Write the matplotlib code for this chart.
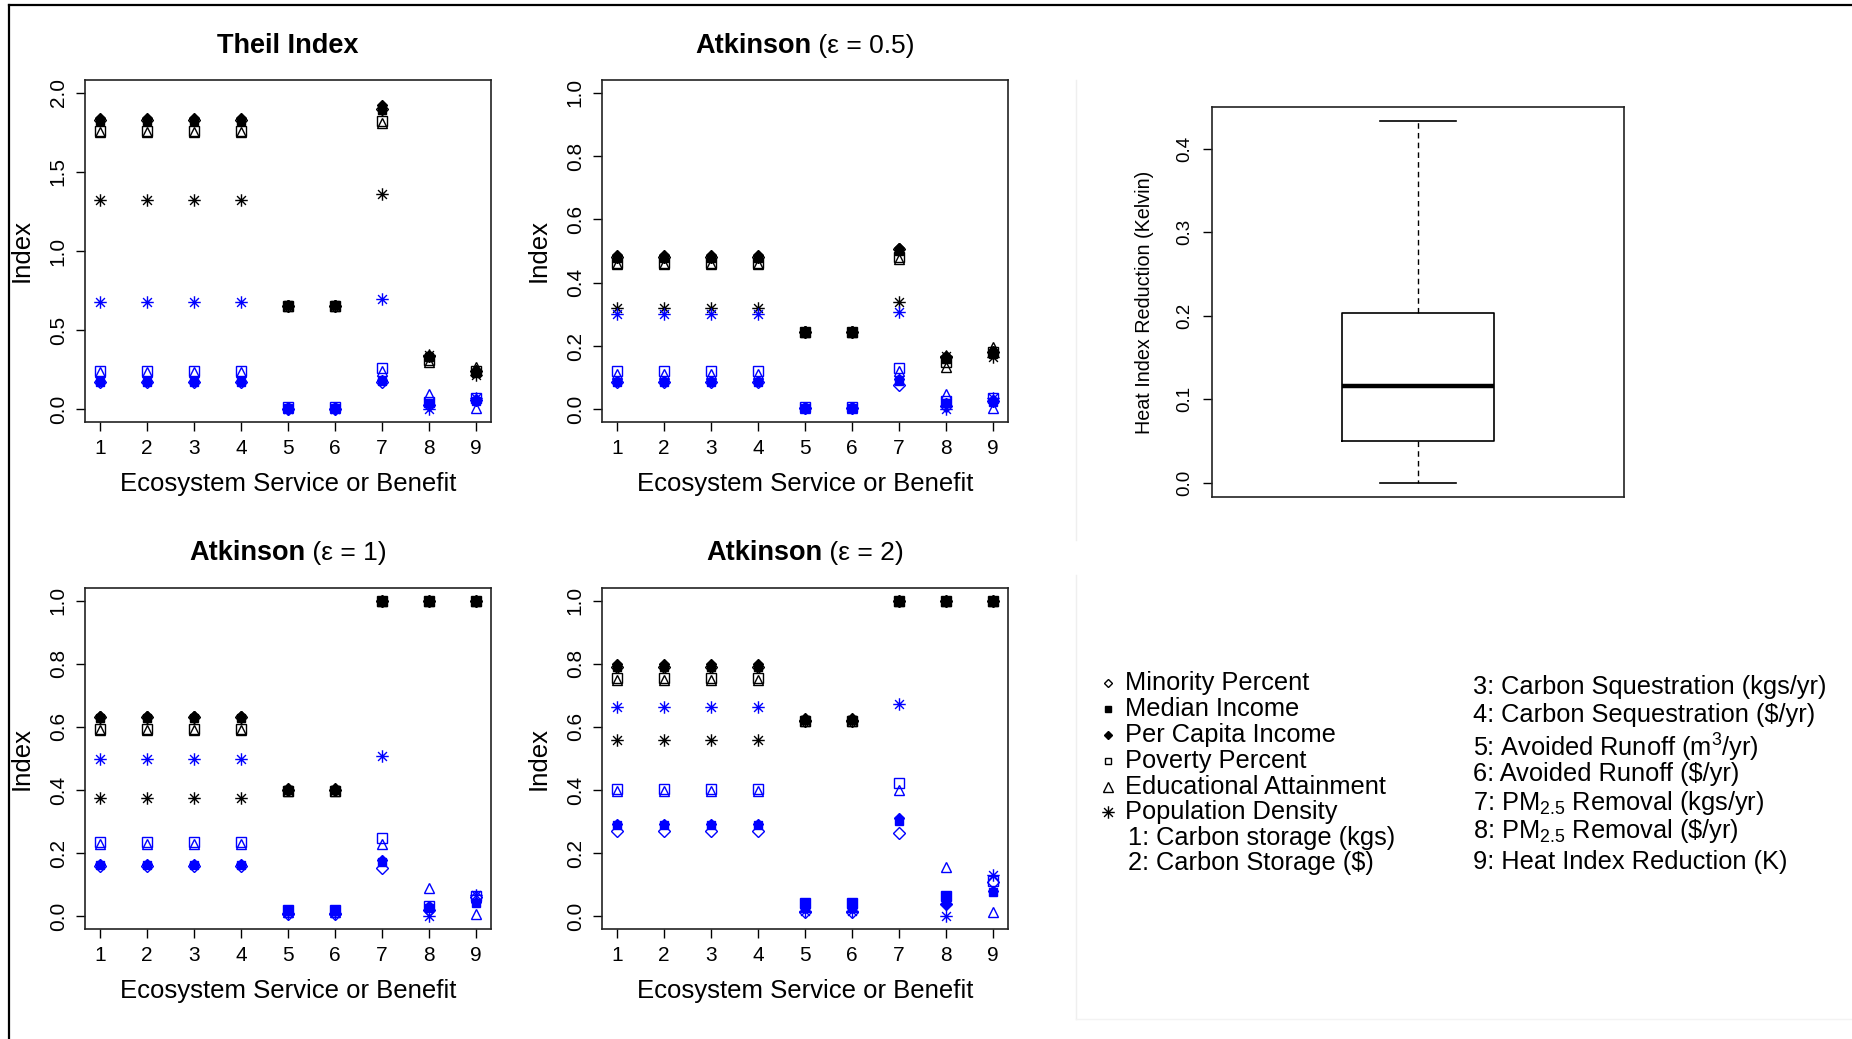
import matplotlib
matplotlib.use("Agg")
from matplotlib import pyplot as plt
from matplotlib.path import Path
import numpy as np

plt.rcParams["font.family"] = ["Liberation Sans", "DejaVu Sans"]
plt.rcParams["mathtext.fontset"] = "custom"
plt.rcParams["mathtext.rm"] = "Liberation Sans"
plt.rcParams["mathtext.default"] = "regular"

# ecosystem service / benefit index on x
services = [1, 2, 3, 4, 5, 6, 7, 8, 9]

variables = ["Minority Percent", "Median Income", "Per Capita Income",
             "Poverty Percent", "Educational Attainment", "Population Density"]

service_names = ["1: Carbon storage (kgs)", "2: Carbon Storage ($)",
                 "3: Carbon Squestration (kgs/yr)", "4: Carbon Sequestration ($/yr)",
                 "5: Avoided Runoff (m$^3$/yr)", "6: Avoided Runoff ($/yr)",
                 "7: PM$_{2.5}$ Removal (kgs/yr)", "8: PM$_{2.5}$ Removal (\\$/yr)",
                 "9: Heat Index Reduction (K)"]

# rows follow `variables`, columns follow `services`
theil_black = [
    [1.83, 1.83, 1.83, 1.83, 0.65, 0.65, 1.90, 0.34, 0.24],
    [1.82, 1.82, 1.82, 1.82, 0.66, 0.66, 1.89, 0.33, 0.23],
    [1.84, 1.84, 1.84, 1.84, 0.66, 0.66, 1.92, 0.34, 0.24],
    [1.76, 1.76, 1.76, 1.76, 0.65, 0.65, 1.82, 0.31, 0.24],
    [1.75, 1.75, 1.75, 1.75, 0.65, 0.65, 1.81, 0.30, 0.27],
    [1.32, 1.32, 1.32, 1.32, 0.655, 0.655, 1.36, 0.345, 0.22],
]
theil_blue = [
    [0.17, 0.17, 0.17, 0.17, 0.005, 0.005, 0.17, 0.03, 0.06],
    [0.175, 0.175, 0.175, 0.175, 0.01, 0.01, 0.18, 0.04, 0.055],
    [0.18, 0.18, 0.18, 0.18, 0.015, 0.015, 0.185, 0.035, 0.06],
    [0.24, 0.24, 0.24, 0.24, 0.015, 0.015, 0.26, 0.045, 0.07],
    [0.235, 0.235, 0.235, 0.235, 0.01, 0.01, 0.24, 0.10, 0.006],
    [0.675, 0.675, 0.675, 0.675, 0.005, 0.005, 0.695, 0.0, 0.07],
]

atk05_black = [
    [0.48, 0.48, 0.48, 0.48, 0.245, 0.245, 0.505, 0.165, 0.18],
    [0.478, 0.478, 0.478, 0.478, 0.245, 0.245, 0.50, 0.16, 0.175],
    [0.486, 0.486, 0.486, 0.486, 0.248, 0.248, 0.51, 0.17, 0.183],
    [0.462, 0.462, 0.462, 0.462, 0.243, 0.243, 0.48, 0.15, 0.18],
    [0.458, 0.458, 0.458, 0.458, 0.243, 0.243, 0.475, 0.135, 0.196],
    [0.319, 0.319, 0.319, 0.319, 0.245, 0.245, 0.34, 0.17, 0.166],
]
atk05_blue = [
    [0.085, 0.085, 0.085, 0.085, 0.003, 0.003, 0.078, 0.012, 0.025],
    [0.087, 0.087, 0.087, 0.087, 0.005, 0.005, 0.09, 0.019, 0.024],
    [0.09, 0.09, 0.09, 0.09, 0.008, 0.008, 0.095, 0.02, 0.028],
    [0.12, 0.12, 0.12, 0.12, 0.008, 0.008, 0.13, 0.025, 0.035],
    [0.112, 0.112, 0.112, 0.112, 0.005, 0.005, 0.12, 0.047, 0.003],
    [0.301, 0.301, 0.301, 0.301, 0.003, 0.003, 0.308, 0.0, 0.035],
]

atk1_black = [
    [0.63, 0.63, 0.63, 0.63, 0.40, 0.40, 1.0, 1.0, 1.0],
    [0.628, 0.628, 0.628, 0.628, 0.40, 0.40, 1.0, 1.0, 1.0],
    [0.636, 0.636, 0.636, 0.636, 0.405, 0.405, 1.0, 1.0, 1.0],
    [0.595, 0.595, 0.595, 0.595, 0.398, 0.398, 1.0, 1.0, 1.0],
    [0.59, 0.59, 0.59, 0.59, 0.398, 0.398, 1.0, 1.0, 1.0],
    [0.376, 0.376, 0.376, 0.376, 0.40, 0.40, 1.0, 1.0, 1.0],
]
atk1_blue = [
    [0.16, 0.16, 0.16, 0.16, 0.008, 0.008, 0.154, 0.02, 0.06],
    [0.162, 0.162, 0.162, 0.162, 0.02, 0.02, 0.172, 0.027, 0.043],
    [0.166, 0.166, 0.166, 0.166, 0.018, 0.018, 0.178, 0.033, 0.045],
    [0.235, 0.235, 0.235, 0.235, 0.02, 0.02, 0.248, 0.033, 0.064],
    [0.228, 0.228, 0.228, 0.228, 0.015, 0.015, 0.23, 0.09, 0.006],
    [0.497, 0.497, 0.497, 0.497, 0.01, 0.01, 0.508, 0.0, 0.069],
]

atk2_black = [
    [0.79, 0.79, 0.79, 0.79, 0.62, 0.62, 1.0, 1.0, 1.0],
    [0.79, 0.79, 0.79, 0.79, 0.622, 0.622, 1.0, 1.0, 1.0],
    [0.798, 0.798, 0.798, 0.798, 0.628, 0.628, 1.0, 1.0, 1.0],
    [0.755, 0.755, 0.755, 0.755, 0.618, 0.618, 1.0, 1.0, 1.0],
    [0.75, 0.75, 0.75, 0.75, 0.618, 0.618, 1.0, 1.0, 1.0],
    [0.558, 0.558, 0.558, 0.558, 0.622, 0.622, 1.0, 1.0, 1.0],
]
atk2_blue = [
    [0.27, 0.27, 0.27, 0.27, 0.015, 0.015, 0.264, 0.04, 0.11],
    [0.288, 0.288, 0.288, 0.288, 0.043, 0.043, 0.302, 0.064, 0.077],
    [0.293, 0.293, 0.293, 0.293, 0.027, 0.027, 0.31, 0.038, 0.08],
    [0.402, 0.402, 0.402, 0.402, 0.043, 0.043, 0.422, 0.066, 0.112],
    [0.398, 0.398, 0.398, 0.398, 0.03, 0.03, 0.399, 0.156, 0.015],
    [0.662, 0.662, 0.662, 0.662, 0.017, 0.017, 0.672, 0.001, 0.13],
]

# heat index reduction (Kelvin) five-number summary
heat_min, heat_q1, heat_med, heat_q3, heat_max = 0.0, 0.0495, 0.116, 0.203, 0.433

# R style asterisk (pch = 8)
c45 = np.sqrt(0.5)
asterisk = Path([(-1, 0), (1, 0), (0, -1), (0, 1), (-c45, -c45), (c45, c45), (-c45, c45), (c45, -c45)],
                [Path.MOVETO, Path.LINETO] * 4)

# marker, size, filled
styles = [("D", 6.0, False), ("s", 6.0, True), ("D", 5.5, True),
          ("s", 6.5, False), ("^", 7.5, False), (asterisk, 9.0, False)]

W, H = 1852, 1039
fig = plt.figure(figsize=(W / 100, H / 100), dpi=100)


def px_axes(l, t, r, b):
    return fig.add_axes([l / W, 1 - b / H, (r - l) / W, (b - t) / H])


def r_axes(ax, ylo, yhi, yticks):
    pad = 0.04 * (yhi - ylo)
    ax.set_ylim(ylo - pad, yhi + pad)
    ax.set_yticks(yticks)
    ax.set_yticklabels(["%.1f" % v for v in yticks])
    for lab in ax.get_yticklabels():
        lab.set_rotation(90)
        lab.set_va("center")
    ax.tick_params(direction="out", length=6.5, width=1, labelsize=15, pad=6)
    for s in ax.spines.values():
        s.set_linewidth(1.2)
        s.set_color("#222222")


def scatter_panel(ax, black, blue, title, ymax, yticks, eps=None, ty=1.105):
    ax.set_xlim(1 - 0.32, 9 + 0.32)
    ax.set_xticks(services)
    for vals, col in ((black, "black"), (blue, "#0000ff")):
        for row, (mk, ms, filled) in zip(vals, styles):
            ax.plot(services, row, linestyle="none", marker=mk, markersize=ms,
                    markerfacecolor=col if filled else "none",
                    markeredgecolor=col, markeredgewidth=1.0)
    r_axes(ax, 0, ymax, yticks)
    ax.set_ylabel("Index", fontsize=18.5, labelpad=11)
    ax.set_xlabel("Ecosystem Service or Benefit", fontsize=18.5, labelpad=9.5)
    if eps is None:
        ax.text(0.5, ty, title, transform=ax.transAxes, ha="center", va="center",
                fontsize=19.5, fontweight="bold")
    else:
        t1 = ax.text(0.5, ty, title, transform=ax.transAxes, ha="right", va="center",
                     fontsize=19.5, fontweight="bold")
        t2 = ax.text(0.5, ty, " (\u03b5 = %s)" % eps, transform=ax.transAxes, ha="left",
                     va="center", fontsize=19)
        fig.canvas.draw()
        r = fig.canvas.get_renderer()
        w1 = t1.get_window_extent(r).width
        w2 = t2.get_window_extent(r).width
        axw = ax.get_window_extent(r).width
        shift = (w1 - w2) / 2 / axw
        t1.set_x(0.5 + shift)
        t2.set_x(0.5 + shift)


ax1 = px_axes(85, 80, 491, 422)
scatter_panel(ax1, theil_black, theil_blue, "Theil Index", 2.0, [0, 0.5, 1.0, 1.5, 2.0], ty=1.098)
ax2 = px_axes(602, 80, 1008, 422)
scatter_panel(ax2, atk05_black, atk05_blue, "Atkinson", 1.0, [0, 0.2, 0.4, 0.6, 0.8, 1.0], "0.5", ty=1.098)
ax3 = px_axes(85, 588, 491, 929)
scatter_panel(ax3, atk1_black, atk1_blue, "Atkinson", 1.0, [0, 0.2, 0.4, 0.6, 0.8, 1.0], "1", ty=1.104)
ax4 = px_axes(602, 588, 1008, 929)
scatter_panel(ax4, atk2_black, atk2_blue, "Atkinson", 1.0, [0, 0.2, 0.4, 0.6, 0.8, 1.0], "2", ty=1.104)

# boxplot of heat index reduction
axb = px_axes(1212, 107, 1624, 497)
stats = [dict(whislo=heat_min, q1=heat_q1, med=heat_med, q3=heat_q3, whishi=heat_max, fliers=[])]
axb.bxp(stats, positions=[1], widths=0.4, showfliers=False,
        boxprops=dict(color="black", linewidth=1.2),
        medianprops=dict(color="black", linewidth=3.2),
        whiskerprops=dict(color="black", linewidth=1.0, linestyle=(0, (4, 3))),
        capprops=dict(color="black", linewidth=1.2), capwidths=0.2)
axb.set_xlim(0.46, 1.54)
axb.set_xticks([])
r_axes(axb, heat_min, heat_max, [0.0, 0.1, 0.2, 0.3, 0.4])
axb.tick_params(axis="y", labelsize=13.5, pad=7)
axb.set_ylabel("Heat Index Reduction (Kelvin)", fontsize=14.2, labelpad=16)

# legend and frame drawn in pixel space
ov = fig.add_axes([0, 0, 1, 1], zorder=5)
ov.set_xlim(0, W)
ov.set_ylim(H, 0)
ov.axis("off")
ov.plot([9, W], [5, 5], color="black", lw=1.6)
ov.plot([9, 9], [5, H], color="black", lw=1.6)
ov.plot([1076, 1076], [80, 540], color="#efefef", lw=1)
ov.plot([1076, 1076], [575, 1019], color="#efefef", lw=1)
ov.plot([1076, W], [1019, 1019], color="#f3f3f3", lw=1)

left_rows = [683, 709, 735, 761, 787, 812]
leg_sizes = [4.5, 5.0, 4.5, 5.0, 7.5, 9.0]
for name, yy, (mk, ms, filled), lms in zip(variables, left_rows, styles, leg_sizes):
    ov.plot([1108], [yy], linestyle="none", marker=mk, markersize=lms,
            markerfacecolor="black" if filled else "none", markeredgecolor="black",
            markeredgewidth=1.0)
    ov.text(1125, yy, name, fontsize=18.3, va="center", ha="left")
for name, yy in zip(service_names[:2], [838, 863]):
    ov.text(1128, yy, name, fontsize=18.3, va="center", ha="left")
for name, yy in zip(service_names[2:], [687, 715, 748, 774, 803, 831, 862]):
    ov.text(1473, yy, name, fontsize=18.3, va="center", ha="left")

fig.savefig("out.png", dpi=100)
